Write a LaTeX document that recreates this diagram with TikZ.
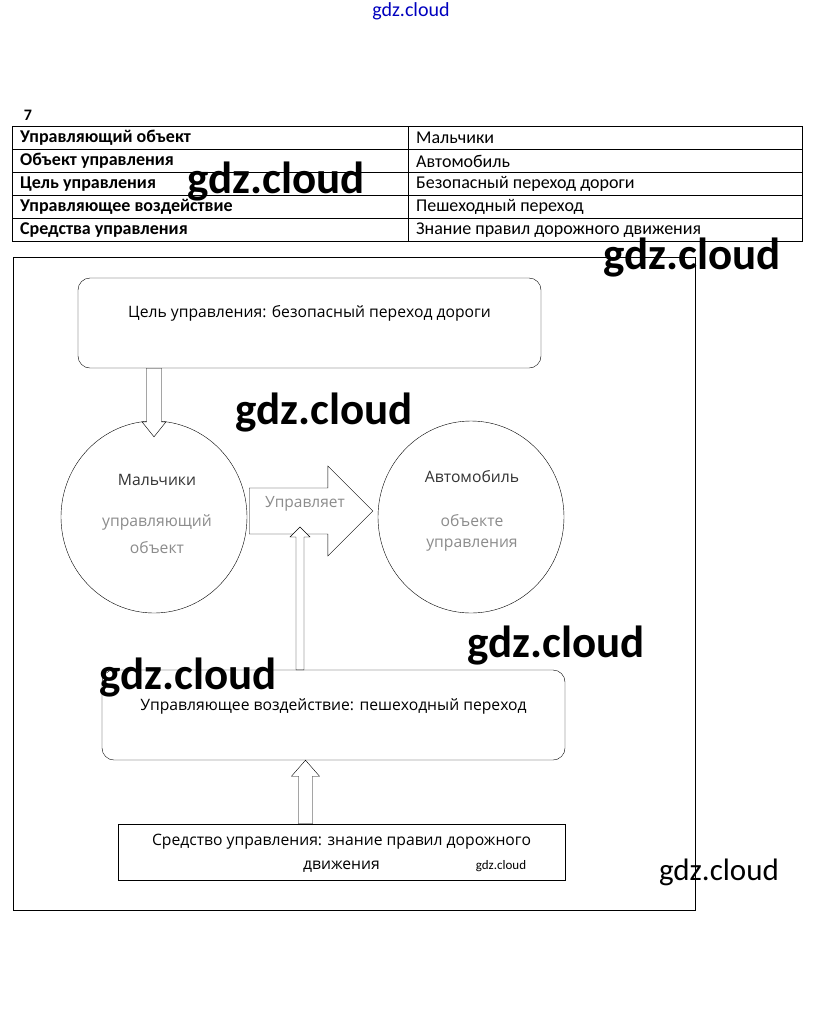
\documentclass[tikz,border=0pt]{standalone}
\usepackage{fontspec}
\setmainfont{Carlito}
\newfontfamily\diagfont{Open Sans}
\usetikzlibrary{positioning,shapes.geometric,calc}

% block arrow: start, tip, shaft half width, head half width, head length
\newcommand\blockarrow[5]{%
  \coordinate (ba-c) at ($(#2)!#5!(#1)$);
  \draw[fill=white] ($(#1)!#3!90:(#2)$) -- ($(ba-c)!#3!90:(#2)$) -- ($(ba-c)!#4!90:(#2)$) -- (#2)
    -- ($(ba-c)!#4!-90:(#2)$) -- ($(ba-c)!#3!-90:(#2)$) -- ($(#1)!#3!-90:(#2)$) -- cycle;}

\begin{document}
\begin{tikzpicture}[x=1pt,y=-1pt]
\tikzstyle{box}=[rectangle,draw,rounded corners=12pt,minimum width=463pt,minimum height=90pt]
\tikzstyle{oval}=[ellipse,draw,minimum width=186pt,minimum height=192pt,inner sep=0pt]
\tikzstyle{cell}=[anchor=west,inner sep=0pt,font=\fontsize{18}{20}\selectfont]
\tikzstyle{head}=[cell,font=\bfseries\fontsize{18}{20}\selectfont]
\tikzstyle{txt}=[inner sep=0pt,font=\diagfont\fontsize{15.7}{18}\selectfont]
\tikzstyle{faded}=[txt,text=black!45]
\tikzstyle{wm}=[inner sep=0pt,font=\bfseries\fontsize{45}{45}\selectfont]
\useasboundingbox[fill=white] (0,0) rectangle (823,1029);

% table
\node[inner sep=0pt,font=\bfseries\fontsize{16}{18}\selectfont] (num) at (28,115) {7};
\draw (12,126) rectangle (802,241);
\draw (12,149) -- (802,149) (12,172) -- (802,172) (12,195) -- (802,195) (12,218) -- (802,218);
\draw (408,126) -- (408,241);
\node[head] (r1) at (20,138) {Управляющий объект};
\node[head] (r2) at (20,161) {Объект управления};
\node[head] (r3) at (20,184) {Цель управления};
\node[head] (r4) at (20,207) {Управляющее воздействие};
\node[head] (r5) at (20,230) {Средства управления};
\node[cell] (v1) at (416,138) {Мальчики};
\node[cell] (v2) at (416,161) {Автомобиль};
\node[cell] (v3) at (416,184) {Безопасный переход дороги};
\node[cell] (v4) at (416,207) {Пешеходный переход};
\node[cell] (v5) at (416,230) {Знание правил дорожного движения};

% scheme
\draw (13,257) rectangle (695,910);
\node[box] (goal) at (309.5,323) {};
\node[txt] (goaltxt) at ($(goal)+(0,-10)$) {Цель управления: безопасный переход дороги};
\node[oval] (boys) at (154,517) {};
\node[oval] (car) at (471,517) {};
\node[txt,text=black!80] (boys1) at ($(boys)+(3,-37)$) {Мальчики};
\node[faded] (boys2) at ($(boys)+(3,5)$) {управляющий};
\node[faded] (boys3) at ($(boys)+(3,31)$) {объект};
\node[txt,text=black!80] (car1) at ($(car)+(1,-40)$) {Автомобиль};
\node[faded] (car2) at ($(car)+(1,4)$) {объекте};
\node[faded] (car3) at ($(car)+(1,28)$) {управления};
\node[box] (action) at (333.5,715) {};
\node[txt] (actiontxt) at ($(action)+(0,-9)$) {Управляющее воздействие: пешеходный переход};
\node[draw,minimum width=447pt,minimum height=56pt] (means) at (341.5,852) {};
\node[txt] (means1) at ($(means)+(0,-10)$) {Средство управления: знание правил дорожного};
\node[txt] (means2) at ($(means)+(0,15)$) {движения};

\coordinate (g1) at (goal.south -| boys.north);
\coordinate (g2) at ($(boys.north)+(0,16)$);
\coordinate (m1) at ($(boys.east)+(2,-6)$);
\coordinate (m2) at ($(car.west)+(-5,-6)$);
\coordinate (ctrl) at (300,527);
\coordinate (a1) at (action.north -| ctrl);
\coordinate (w1) at ($(means.north)+(-36,0)$);
\coordinate (w2) at (w1 |- action.south);
\blockarrow{g1}{g2}{7.5pt}{12pt}{15pt}
\blockarrow{m1}{m2}{23pt}{45pt}{45pt}
\node[faded,font=\diagfont\fontsize{15.5}{18}\selectfont] (rule) at (305,504) {Управляет};
\blockarrow{a1}{ctrl}{4pt}{10pt}{10pt}
\blockarrow{w1}{w2}{7pt}{14pt}{16pt}

% watermarks
\node[inner sep=0pt,text=blue!75!black,font=\fontsize{20}{20}\selectfont] (wm0) at (411,11) {gdz.cloud};
\node[wm] (wm1) at (276,182) {gdz.cloud};
\node[wm] (wm2) at (692,258) {gdz.cloud};
\node[wm] (wm3) at (324,413) {gdz.cloud};
\node[wm] (wm4) at (556,646) {gdz.cloud};
\node[wm] (wm5) at (188,678) {gdz.cloud};
\node[inner sep=0pt,font=\fontsize{31}{31}\selectfont] (wm6) at (719,872) {gdz.cloud};
\node[inner sep=0pt,font=\fontsize{13}{13}\selectfont] (wm7) at (501,866) {gdz.cloud};
\end{tikzpicture}
\end{document}
